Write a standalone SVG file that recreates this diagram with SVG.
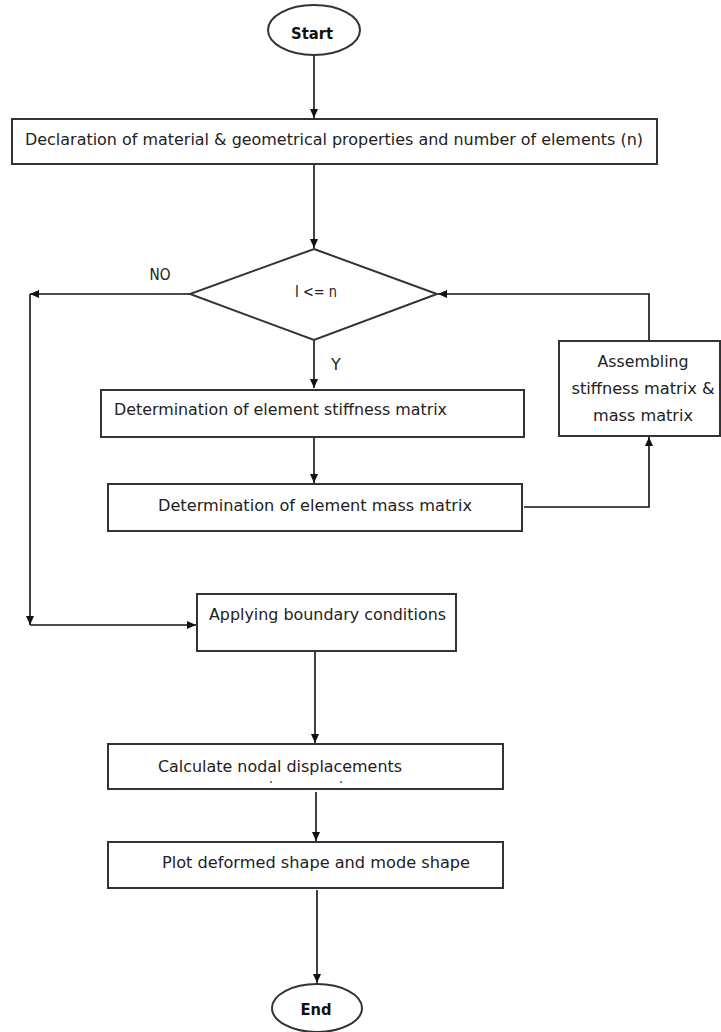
<svg xmlns="http://www.w3.org/2000/svg" width="721" height="1032" viewBox="0 0 721 1032">
<style>
.box{fill:#fff;stroke:#333;stroke-width:2}
.t{font-family:"DejaVu Sans","Liberation Sans",sans-serif;font-size:16px;fill:#222}
.b{font-family:"DejaVu Sans","Liberation Sans",sans-serif;font-size:16px;font-weight:bold;fill:#111}
.c{fill:none;stroke:#111;stroke-width:1.6}
</style>
<defs>
<marker id="ah" viewBox="0 0 10 10" refX="10" refY="5" markerUnits="userSpaceOnUse" markerWidth="9" markerHeight="8" orient="auto" preserveAspectRatio="none">
<path d="M0,0 L10,5 L0,10 z" fill="#111"/>
</marker>
</defs>
<rect width="721" height="1032" fill="#fff"/>
<g id="connectors">
<line class="c" x1="314" y1="55" x2="314" y2="118" marker-end="url(#ah)"/>
<line class="c" x1="314" y1="164" x2="314" y2="248" marker-end="url(#ah)"/>
<line class="c" x1="190" y1="294" x2="30" y2="294" marker-end="url(#ah)"/>
<line class="c" x1="30" y1="294" x2="30" y2="625" marker-end="url(#ah)"/>
<line class="c" x1="30" y1="625" x2="196" y2="625" marker-end="url(#ah)"/>
<line class="c" x1="314" y1="340" x2="314" y2="388" marker-end="url(#ah)"/>
<line class="c" x1="314" y1="437" x2="314" y2="483" marker-end="url(#ah)"/>
<polyline class="c" points="524,507 649,507 649,437" marker-end="url(#ah)"/>
<polyline class="c" points="649,341 649,294 438,294" marker-end="url(#ah)"/>
<line class="c" x1="315" y1="652" x2="315" y2="743" marker-end="url(#ah)"/>
<line class="c" x1="316" y1="792" x2="316" y2="841" marker-end="url(#ah)"/>
<line class="c" x1="317" y1="890" x2="317" y2="983" marker-end="url(#ah)"/>
<text class="t" x="160" y="280" text-anchor="middle" textLength="21" lengthAdjust="spacingAndGlyphs" font-size="14">NO</text>
<text class="t" x="336" y="370" text-anchor="middle" font-size="14">Y</text>
</g>
<g id="start">
<ellipse class="box" cx="314" cy="30" rx="46" ry="25"/>
<text class="b" x="312" y="39" text-anchor="middle" textLength="42" lengthAdjust="spacingAndGlyphs">Start</text>
</g>
<g id="declaration">
<rect class="box" x="12" y="119" width="645" height="45"/>
<text class="t" x="25" y="145" textLength="618" lengthAdjust="spacingAndGlyphs">Declaration of material &amp; geometrical properties and number of elements (n)</text>
</g>
<g id="decision">
<polygon class="box" points="314,249 437,294 314,340 190,294"/>
<text class="t" x="316" y="297" text-anchor="middle" textLength="42" lengthAdjust="spacingAndGlyphs" font-size="15">I &lt;= n</text>
</g>
<g id="stiffness">
<rect class="box" x="101" y="390" width="423" height="47"/>
<text class="t" x="114" y="415" textLength="333" lengthAdjust="spacingAndGlyphs">Determination of element stiffness matrix</text>
</g>
<g id="mass">
<rect class="box" x="108" y="484" width="414" height="47"/>
<text class="t" x="158" y="511" textLength="314" lengthAdjust="spacingAndGlyphs">Determination of element mass matrix</text>
</g>
<g id="assembling">
<rect class="box" x="559" y="341" width="161" height="95"/>
<text class="t" x="643" y="367" text-anchor="middle" textLength="91" lengthAdjust="spacingAndGlyphs">Assembling</text>
<text class="t" x="643" y="394" text-anchor="middle" textLength="143" lengthAdjust="spacingAndGlyphs">stiffness matrix &amp;</text>
<text class="t" x="643" y="421" text-anchor="middle" textLength="100" lengthAdjust="spacingAndGlyphs">mass matrix</text>
</g>
<g id="boundary">
<rect class="box" x="197" y="594" width="259" height="57"/>
<text class="t" x="209" y="620" textLength="237" lengthAdjust="spacingAndGlyphs">Applying boundary conditions</text>
</g>
<g id="nodal">
<rect class="box" x="108" y="744" width="395" height="45"/>
<text class="t" x="158" y="772" textLength="244" lengthAdjust="spacingAndGlyphs">Calculate nodal displacements</text>
<circle cx="271" cy="782" r="0.9" fill="#444"/>
<circle cx="341" cy="782" r="0.9" fill="#444"/>
</g>
<g id="plot">
<rect class="box" x="108" y="842" width="395" height="46"/>
<text class="t" x="162" y="868" textLength="308" lengthAdjust="spacingAndGlyphs">Plot deformed shape and mode shape</text>
</g>
<g id="end">
<ellipse class="box" cx="317" cy="1008" rx="45" ry="24"/>
<text class="b" x="316" y="1015" text-anchor="middle" textLength="31" lengthAdjust="spacingAndGlyphs">End</text>
</g>
</svg>
